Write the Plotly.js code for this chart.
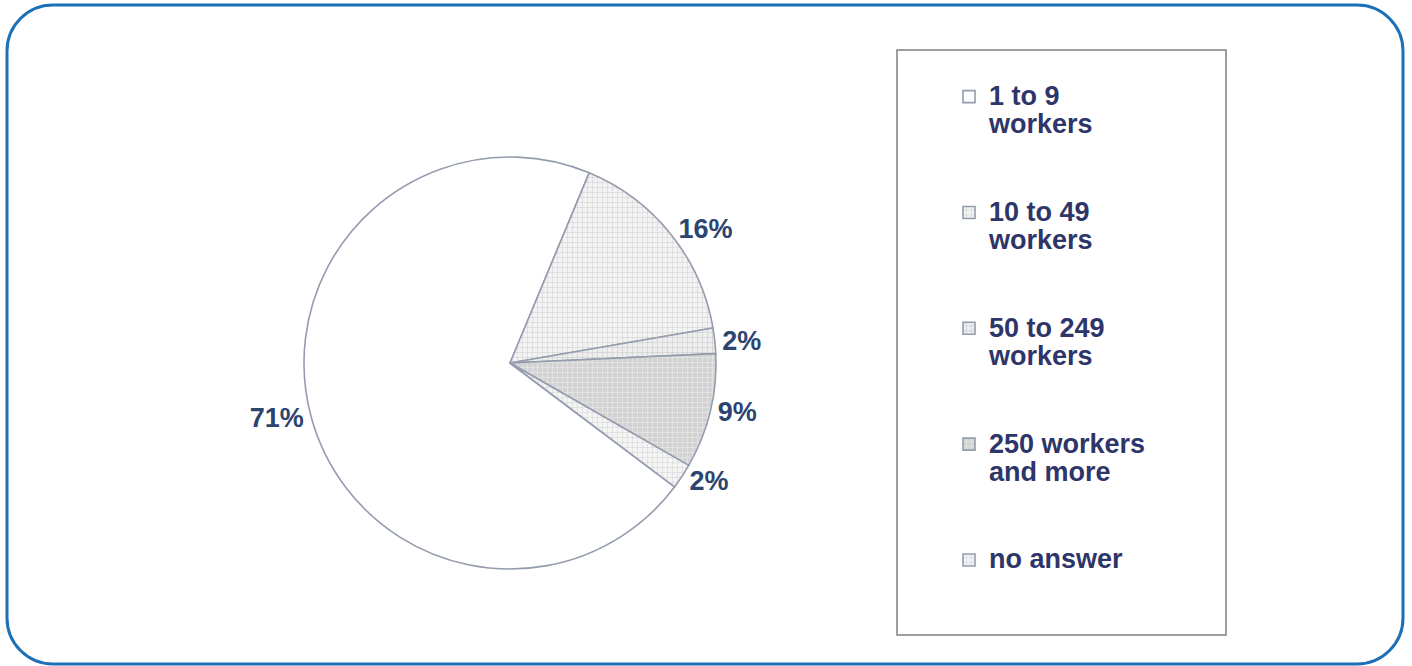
<!DOCTYPE html>
<html>
<head>
<meta charset="utf-8">
<script src="https://cdn.plot.ly/plotly-3.0.1.min.js"></script>
<style>
  html, body { margin: 0; padding: 0; background: #ffffff; }
  #chart { width: 1412px; height: 666px; }
</style>
</head>
<body>
<div id="chart"></div>
<script>
// ---- data ----
const categories = ['1 to 9 workers', '10 to 49 workers', '50 to 249 workers', '250 workers and more', 'no answer'];
const legendLines = [['1 to 9', 'workers'], ['10 to 49', 'workers'], ['50 to 249', 'workers'], ['250 workers', 'and more'], ['no answer']];
const shares = [71, 16, 2, 9, 2];

// ---- styles ----
const sliceColors   = ['#ffffff', '#f3f3f3', '#eeeeee', '#d3d3d3', '#f4f4f4'];
const patternShapes = ['', '+', '+', '+', '+'];
const patternFg     = ['#ffffff', '#c9c9c9', '#c4c4c4', '#f0f0f0', '#d0d0d0'];

const W = 1412, H = 666;
const px = x => x / W;
const py = y => 1 - y / H;

const legendFontSize = 21.7;
const labelSpan = s => '<span style="font-size:27px">' + s + '</span>';
const legendLabels = legendLines.map((lines, i) => {
  const parts = lines.map(labelSpan);
  if (i < legendLines.length - 1) { while (parts.length < 4) parts.push(' '); }
  return parts.join('<br>');
});

// rounded frame path (paper coords)
function roundedRect(x0, y0, x1, y1, r) {
  const k = 0.5523 * r;
  const P = (x, y) => px(x) + ',' + py(y);
  return 'M' + P(x0 + r, y0) +
    ' L' + P(x1 - r, y0) +
    ' C' + P(x1 - r + k, y0) + ' ' + P(x1, y0 + r - k) + ' ' + P(x1, y0 + r) +
    ' L' + P(x1, y1 - r) +
    ' C' + P(x1, y1 - r + k) + ' ' + P(x1 - r + k, y1) + ' ' + P(x1 - r, y1) +
    ' L' + P(x0 + r, y1) +
    ' C' + P(x0 + r - k, y1) + ' ' + P(x0, y1 - r + k) + ' ' + P(x0, y1 - r) +
    ' L' + P(x0, y0 + r) +
    ' C' + P(x0, y0 + r - k) + ' ' + P(x0 + r - k, y0) + ' ' + P(x0 + r, y0) + ' Z';
}

const cx = 510, cy = 363, R = 206;

const trace = {
  type: 'pie',
  labels: legendLabels,
  values: shares,
  customdata: categories,
  sort: false,
  direction: 'clockwise',
  rotation: 127,
  textinfo: 'percent',
  textposition: 'outside',
  outsidetextfont: { family: 'Liberation Sans, Arial, sans-serif', size: 27, color: '#2c4470', weight: 'bold' },
  hovertemplate: '%{customdata}: %{percent}<extra></extra>',
  marker: {
    colors: sliceColors,
    line: { color: '#949cae', width: 1.6 },
    pattern: { shape: patternShapes, fgcolor: patternFg, bgcolor: sliceColors, size: 5, solidity: 0.18 }
  },
  domain: { x: [px(cx - R), px(cx + R)], y: [py(cy + R), py(cy - R)] }
};

const layout = {
  width: W, height: H,
  margin: { l: 0, r: 0, t: 0, b: 0 },
  paper_bgcolor: '#ffffff',
  plot_bgcolor: '#ffffff',
  showlegend: true,
  legend: {
    x: px(949), xanchor: 'left',
    y: py(76), yanchor: 'top',
    valign: 'top',
    bgcolor: 'rgba(0,0,0,0)',
    borderwidth: 0,
    font: { family: 'Liberation Sans, Arial, sans-serif', size: legendFontSize, color: '#2e3568', weight: 'bold' }
  },
  shapes: [
    { type: 'path', xref: 'paper', yref: 'paper', path: roundedRect(7, 5, 1403, 664, 46),
      line: { color: '#1c71b6', width: 3 }, fillcolor: 'rgba(0,0,0,0)' },
    { type: 'rect', xref: 'paper', yref: 'paper', x0: px(897), x1: px(1226), y0: py(50), y1: py(635),
      line: { color: '#808080', width: 1.5 }, fillcolor: 'rgba(0,0,0,0)' }
  ]
};

Plotly.newPlot('chart', [trace], layout, { displayModeBar: false, staticPlot: false });
</script>
</body>
</html>
